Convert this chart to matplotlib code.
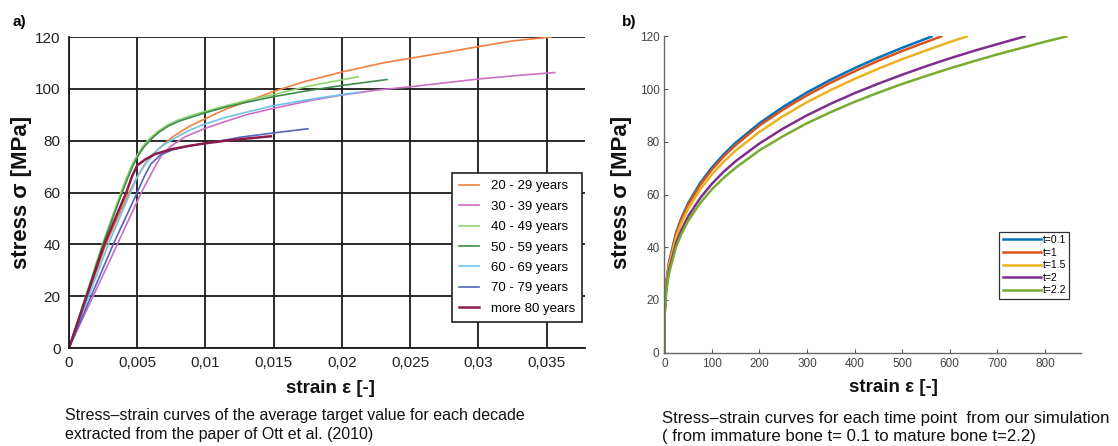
import matplotlib
matplotlib.use("Agg")
import matplotlib.pyplot as plt

plt.rcParams['font.family'] = ['Liberation Sans', 'DejaVu Sans']

# ---- panel a) data (Ott et al. 2010), strain [-] / stress [MPa]
age_labels = ['20 - 29 years', '30 - 39 years', '40 - 49 years', '50 - 59 years',
              '60 - 69 years', '70 - 79 years', 'more 80 years']
age_colors = ['#f47f3e', '#cc6fc6', '#8fd46c', '#3d8b4c', '#6fc3ea', '#5563b8', '#8a1c4c']

eps_20 = [0, 0.0027, 0.0044, 0.005, 0.0055, 0.006, 0.0067, 0.0076, 0.0088, 0.01, 0.0115, 0.0126,
          0.015, 0.0174, 0.02, 0.023, 0.025, 0.0275, 0.03, 0.0325, 0.0353]
sig_20 = [0, 40, 60, 66, 70.5, 74, 77.5, 81.5, 85.5, 88.5, 92.2, 94.3,
          99, 103, 106.5, 110, 111.8, 114, 116.3, 118.5, 120]
eps_30 = [0, 0.00354, 0.0053, 0.0058, 0.0063, 0.0068, 0.0075, 0.0085, 0.01, 0.0115, 0.013,
          0.015, 0.0175, 0.02, 0.0225, 0.025, 0.0275, 0.03, 0.0325, 0.0356]
sig_30 = [0, 40, 60, 65, 70, 74.5, 78, 81.5, 84.8, 87.5, 90,
          92.5, 95.3, 97.6, 99.5, 100.8, 102.3, 103.8, 105, 106.3]
eps_40 = [0, 0.00244, 0.0038, 0.0042, 0.0046, 0.005, 0.0054, 0.0059, 0.0065, 0.0072, 0.008, 0.009,
          0.01, 0.0115, 0.013, 0.015, 0.0175, 0.02, 0.0212]
sig_40 = [0, 40, 60, 65.5, 70.5, 74.5, 77.8, 80.8, 83.6, 86, 88, 89.8,
          91.3, 93.5, 95.5, 97.8, 101, 103.5, 104.7]
eps_50 = [0, 0.0025, 0.0039, 0.0043, 0.0047, 0.0051, 0.0055, 0.006, 0.0066, 0.0073, 0.0081, 0.0091,
          0.01, 0.0115, 0.013, 0.015, 0.0175, 0.02, 0.0233]
sig_50 = [0, 40, 60, 65.5, 70.5, 74.5, 77.6, 80.5, 83.3, 85.7, 87.6, 89.3,
          90.8, 93, 94.8, 97, 99.3, 101.3, 103.6]
eps_60 = [0, 0.00288, 0.0045, 0.005, 0.0056, 0.0063, 0.0069, 0.0076, 0.0088, 0.01, 0.0115, 0.013,
          0.015, 0.0175, 0.02, 0.0212]
sig_60 = [0, 40, 60, 66, 71, 75.5, 78.3, 80.5, 84, 86.5, 89, 91,
          93.5, 95.8, 97.8, 98.7]
eps_70 = [0, 0.00324, 0.005, 0.0055, 0.006, 0.0067, 0.0076, 0.0088, 0.01, 0.0115, 0.0125,
          0.015, 0.0175]
sig_70 = [0, 40, 60, 66, 71, 74.5, 76.5, 78, 79, 80.3, 81.3,
          83, 84.6]
eps_80 = [0, 0.00259, 0.0042, 0.0046, 0.005, 0.0056, 0.0063, 0.0075, 0.0088, 0.01, 0.0115,
          0.013, 0.0148]
sig_80 = [0, 40, 60, 66, 70.5, 72.8, 74.8, 76.7, 78, 79, 80,
          80.8, 81.7]

ott_eps = [eps_20, eps_30, eps_40, eps_50, eps_60, eps_70, eps_80]
ott_sig = [sig_20, sig_30, sig_40, sig_50, sig_60, sig_70, sig_80]

a_xticks = [0, 0.005, 0.01, 0.015, 0.02, 0.025, 0.03, 0.035]
a_xticklabels = ['0', '0,005', '0,01', '0,015', '0,02', '0,025', '0,03', '0,035']
a_yticks = [0, 20, 40, 60, 80, 100, 120]

# ---- panel b) data (simulation)
t_labels = ['t=0.1', 't=1', 't=1.5', 't=2', 't=2.2']
t_colors = ['#0072BD', '#D95319', '#EDB120', '#7E2F8E', '#77AC30']

eps_t01 = [0, 0.3, 1, 3, 5, 10, 25, 35, 50, 75, 100, 125, 150, 200, 250, 300, 350, 400, 450, 500, 562]
sig_t01 = [0, 12, 16.9, 23.7, 27.8, 34.4, 45.7, 50.7, 56.7, 64.3, 70.3, 75.3, 79.7, 87.1, 93.3,
           98.8, 103.6, 108.0, 112.0, 115.7, 120]
eps_t1 = [0, 0.3, 1, 3, 5, 10, 25, 35, 50, 75, 100, 125, 150, 200, 250, 300, 350, 400, 450, 500, 550, 582]
sig_t1 = [0, 12, 16.7, 23.4, 27.5, 34.0, 45.2, 50.2, 56.1, 63.6, 69.5, 74.5, 78.8, 86.2, 92.3,
          97.7, 102.5, 106.8, 110.8, 114.5, 117.9, 120]
eps_t15 = [0, 0.3, 1, 3, 5, 10, 25, 35, 50, 75, 100, 125, 150, 200, 250, 300, 350, 400, 450, 500, 550, 600, 636]
sig_t15 = [0, 12, 16.3, 22.8, 26.8, 33.1, 44.0, 48.8, 54.6, 61.9, 67.7, 72.5, 76.7, 83.8, 89.8,
           95.1, 99.7, 103.9, 107.8, 111.4, 114.7, 117.9, 120]
eps_t2 = [0, 0.3, 1, 3, 5, 10, 25, 35, 50, 75, 100, 125, 150, 200, 250, 300, 350, 400, 450, 500, 550, 600,
          650, 700, 757]
sig_t2 = [0, 12, 15.4, 21.6, 25.3, 31.4, 41.7, 46.2, 51.7, 58.6, 64.1, 68.7, 72.7, 79.4, 85.1,
          90.1, 94.5, 98.5, 102.1, 105.5, 108.7, 111.7, 114.5, 117.1, 120]
eps_t22 = [0, 0.3, 1, 3, 5, 10, 25, 35, 50, 75, 100, 125, 150, 200, 250, 300, 350, 400, 450, 500, 550, 600,
           650, 700, 750, 800, 845]
sig_t22 = [0, 12, 14.9, 20.9, 24.5, 30.3, 40.3, 44.7, 50.0, 56.7, 62.0, 66.4, 70.2, 76.8, 82.2,
           87.1, 91.3, 95.2, 98.7, 102.0, 105.0, 107.9, 110.6, 113.2, 115.6, 118.0, 120]

sim_eps = [eps_t01, eps_t1, eps_t15, eps_t2, eps_t22]
sim_sig = [sig_t01, sig_t1, sig_t15, sig_t2, sig_t22]

b_xticks = [0, 100, 200, 300, 400, 500, 600, 700, 800]
b_yticks = [0, 20, 40, 60, 80, 100, 120]

fig = plt.figure(figsize=(11.18, 4.46), dpi=100)

# ---------------- panel a
ax1 = fig.add_axes([0.0617, 0.2197, 0.4615, 0.6973])
for e, s, lab, c in zip(ott_eps, ott_sig, age_labels, age_colors):
    lw = 1.8 if lab == 'more 80 years' else 1.2
    ax1.plot(e, s, color=c, lw=lw, label=lab)
ax1.set_xlim(0, 0.0378)
ax1.set_ylim(0, 120)
ax1.set_xticks(a_xticks)
ax1.set_xticklabels(a_xticklabels)
ax1.set_yticks(a_yticks)
ax1.grid(True, color='#1a1a1a', lw=1.3)
ax1.set_axisbelow(True)
ax1.tick_params(length=0, labelsize=11, pad=6, colors='#222222')
for sp in ['top', 'right']:
    ax1.spines[sp].set_visible(False)
for sp in ['left', 'bottom']:
    ax1.spines[sp].set_color('#1a1a1a')
    ax1.spines[sp].set_linewidth(1.3)
leg1 = ax1.legend(loc='lower right', bbox_to_anchor=(1.0, 0.075), fontsize=9.5,
                  frameon=True, fancybox=False, edgecolor='#222222', framealpha=1,
                  handlelength=1.5, labelspacing=0.62, borderpad=0.55, handletextpad=0.9,
                  borderaxespad=0.2)
leg1.get_frame().set_linewidth(1.2)

fig.text(0.019, 0.568, 'stress σ [MPa]', rotation=90, fontsize=16, fontweight='bold',
         ha='center', va='center', color='#111111')
fig.text(0.296, 0.128, 'strain ε [-]', fontsize=13.5, fontweight='bold',
         ha='center', va='center', color='#111111')
fig.text(0.0115, 0.95, 'a)', fontsize=11, fontweight='bold', ha='left', va='center')
fig.text(0.058, 0.010, 'Stress–strain curves of the average target value for each decade\n'
         'extracted from the paper of Ott et al. (2010)', fontsize=11.5,
         ha='left', va='bottom', linespacing=1.3, color='#111111')

# ---------------- panel b
ax2 = fig.add_axes([0.5942, 0.2092, 0.3728, 0.7090])
for e, s, lab, c in zip(sim_eps, sim_sig, t_labels, t_colors):
    ax2.plot(e, s, color=c, lw=1.8, label=lab)
ax2.set_xlim(0, 876)
ax2.set_ylim(0, 120)
ax2.set_xticks(b_xticks)
ax2.set_yticks(b_yticks)
ax2.tick_params(direction='in', length=3, labelsize=8.5, colors='#555555', labelcolor='#444444')
for sp in ['top', 'right']:
    ax2.spines[sp].set_visible(False)
for sp in ['left', 'bottom']:
    ax2.spines[sp].set_color('#666666')
    ax2.spines[sp].set_linewidth(1.0)
leg2 = ax2.legend(loc='upper left', bbox_to_anchor=(0.804, 0.382), fontsize=7.5,
                  frameon=True, fancybox=False, edgecolor='#333333', framealpha=1,
                  handlelength=3.7, labelspacing=0.25, borderpad=0.3, handletextpad=0.15,
                  borderaxespad=0.0)
leg2.get_frame().set_linewidth(0.9)

fig.text(0.556, 0.568, 'stress σ [MPa]', rotation=90, fontsize=16, fontweight='bold',
         ha='center', va='center', color='#111111')
fig.text(0.799, 0.131, 'strain ε [-]', fontsize=13.5, fontweight='bold',
         ha='center', va='center', color='#111111')
fig.text(0.5565, 0.95, 'b)', fontsize=11, fontweight='bold', ha='left', va='center')
fig.text(0.592, 0.004, 'Stress–strain curves for each time point  from our simulation\n'
         '( from immature bone t= 0.1 to mature bone t=2.2)', fontsize=12.1,
         ha='left', va='bottom', linespacing=1.3, color='#111111')

fig.savefig('out.png', dpi=100)
